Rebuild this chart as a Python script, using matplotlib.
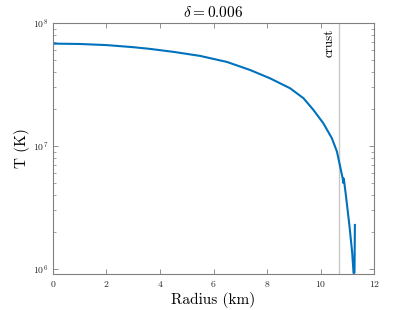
import matplotlib
matplotlib.use('Agg')
import matplotlib.pyplot as plt
import numpy as np
import matplotlib.ticker as ticker

plt.rcParams['font.family'] = 'cmr10'
plt.rcParams['mathtext.fontset'] = 'cm'
plt.rcParams['axes.formatter.use_mathtext'] = True

# radius (km) and log10 temperature (K)
radius = [0.0, 1.0, 2.0, 3.0, 3.63, 4.5, 5.5, 6.5, 7.36, 8.11, 8.86, 9.36, 9.73,
          10.10, 10.42, 10.61, 10.73, 10.83, 10.845, 10.86, 10.88, 10.95, 11.08,
          11.18, 11.23, 11.265, 11.28]
logT = [7.832, 7.829, 7.820, 7.803, 7.789, 7.765, 7.732, 7.683, 7.618, 7.550, 7.469,
        7.388, 7.293, 7.185, 7.063, 6.954, 6.832, 6.730, 6.700, 6.735, 6.710, 6.588,
        6.344, 6.130, 5.967, 5.970, 6.358]
temp = [10 ** v for v in logT]
r_crust = 10.69

fig = plt.figure(figsize=(4.13, 3.10), dpi=100)
ax = fig.add_axes([0.128, 0.116, 0.778, 0.81])

ax.axvline(r_crust, color='#c8c8c8', lw=1.0, zorder=1)
ax.plot(radius, temp, color='#0072BD', lw=1.5, zorder=2)
ax.text(r_crust - 0.12, 9.0e7, 'crust', rotation=90, ha='right', va='top', fontsize=9.5)

ax.set_yscale('log')
ax.set_xlim(0, 12)
ax.set_ylim(9.1e5, 1e8)
ax.set_xticks([0, 2, 4, 6, 8, 10, 12])
ax.set_yticks([1e6, 1e7, 1e8])
ax.yaxis.set_minor_locator(ticker.LogLocator(base=10, subs=np.arange(2, 10)))
ax.yaxis.set_minor_formatter(ticker.NullFormatter())

ax.set_xlabel('Radius (km)', fontsize=11, labelpad=2)
ax.set_ylabel('T (K)', fontsize=11, labelpad=2)
ax.set_title(r'$\delta = 0.006$', fontsize=11, pad=4)

for s in ax.spines.values():
    s.set_color('#808080')
    s.set_linewidth(0.8)
ax.tick_params(which='both', direction='in', top=True, right=True, colors='#808080',
               labelcolor='#262626', labelsize=7)
ax.tick_params(which='major', length=3.5, width=0.6)
ax.tick_params(which='minor', length=2, width=0.5)

fig.savefig('out.png', dpi=100)
